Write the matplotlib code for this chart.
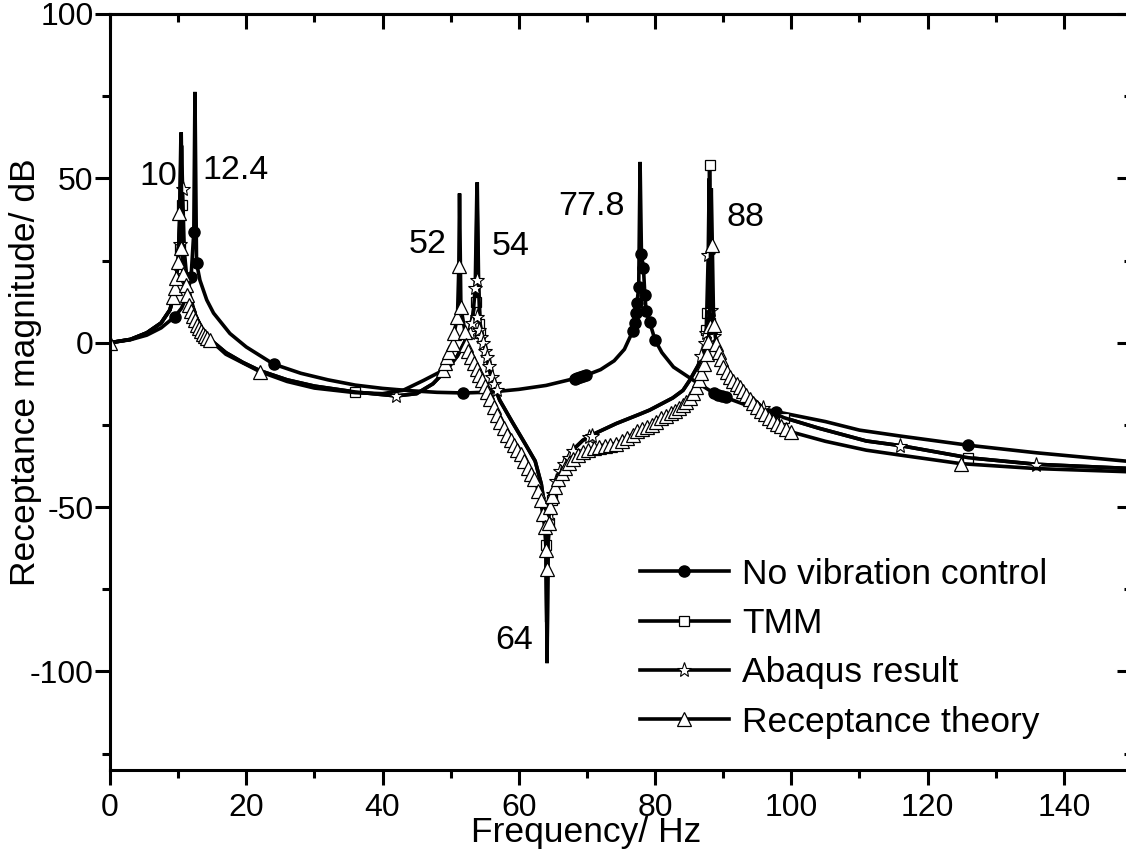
import matplotlib
matplotlib.use("Agg")
import matplotlib.pyplot as plt
from matplotlib.lines import Line2D
from matplotlib.ticker import MultipleLocator

plt.rcParams['font.family'] = ['Liberation Sans', 'DejaVu Sans']
plt.rcParams['axes.unicode_minus'] = False

# ---- No vibration control (filled circles) ----
nvc_f = [0, 3, 5.4, 7.5, 9.5, 10.5, 11.3, 11.9, 12.3, 12.47, 12.7, 13.2, 14.2, 15.2, 17.6, 20,
         24, 28, 32, 36, 40, 44, 48, 52, 56, 60, 64, 68, 70, 72, 74, 75.5, 76.5, 77.2, 77.6,
         77.8, 78.0, 78.3, 78.5, 78.7, 79.2, 80, 81, 82.7, 85.6, 88, 89.5, 93, 97.8, 105,
         110, 116, 126, 136, 150]
nvc_db = [0, 0.9, 2.3, 4.5, 7.9, 10.5, 14.5, 20, 33.7, 76.3, 24.3, 19, 13, 9, 2.8, -1.3,
          -6.5, -9.3, -11.3, -12.9, -13.9, -14.6, -15.1, -15.3, -15, -14.2, -13, -11, -9.8,
          -8.2, -5.5, -2, 2.5, 9, 17, 55, 27, 22.6, 14.5, 9.5, 6.3, 0.8, -3, -7.4, -11.4,
          -14.5, -16, -18.7, -21, -24, -26.6, -28.4, -31.2, -33.5, -36.2]
nvc_mf = [9.5, 11.9, 12.3, 12.7, 24, 51.8, 68.2, 68.6, 69.0, 69.4, 69.8, 76.7, 77.0, 77.2,
          77.4, 77.6, 78.0, 78.3, 78.5, 78.7, 79.2, 80.0, 88.6, 89.2, 89.8, 90.4, 97.8, 125.9]
nvc_mdb = [7.9, 20, 33.7, 24.3, -6.5, -15.3, -10.9, -10.6, -10.4, -10.2, -9.9, 3.5, 6, 9,
           12, 17, 27, 22.6, 14.5, 9.5, 6.3, 0.8, -15.2, -15.8, -16.2, -16.6, -21, -31.2]

# ---- TMM (open squares) ----
tmm_f = [0, 3, 5.4, 7.5, 8.8, 9.5, 10.0, 10.3, 10.45, 10.6, 10.8, 11.2, 11.8, 12.6, 13.6,
         14.7, 17, 19.5, 22, 26, 30, 36, 42, 45, 47.4, 49.5, 51, 52, 52.8, 53.3, 53.7, 53.9,
         54.1, 54.3, 54.8, 55.3, 56, 57.2, 59, 61, 62.4, 63.3, 63.8, 64.0, 64.15, 64.3, 64.6,
         65.3, 66.5, 68, 69.4, 71, 74.3, 77.8, 79.2, 82.6, 84.1, 85.1, 86.3, 87.1, 87.6, 87.9,
         88.0, 88.15, 88.4, 89, 90, 91.5, 93, 95.8, 98.9, 104, 111, 116, 126, 136, 150]
tmm_db = [0, 1, 3, 6, 10, 15.5, 24, 40, 64, 42, 28, 19, 13, 8, 4, 1, -3, -6, -8.5, -11.3,
          -13.2, -15, -16.2, -15.5, -12.5, -8, -4, 0, 4, 9, 14, 48.8, 18, 6, 1, -4.3, -11,
          -17.5, -24, -31, -36, -43, -50, -62, -97.5, -62, -50, -43, -37, -32.5, -29.7, -27.8,
          -24.6, -21.7, -20.5, -16.8, -14.5, -11.4, -7, -3, 2, 12, 54, 12, 4, -2, -6.5, -11,
          -14.5, -19.8, -22.8, -26, -29.9, -31.3, -35, -37, -38.3]
tmm_mf = [10.5, 10.3, 36, 53.7, 54.1, 54.3, 64.0, 64.4, 64.8, 87.5, 87.6, 88.0, 88.1,
          98.9, 126]
tmm_mdb = [42, 28.8, -15, 12.4, 5.8, 3, -61.6, -55, -48, 4, 9, 54, 6, -22.8, -35]

# ---- Abaqus result (open stars) ----
abq_f = [0, 3, 5.4, 7.5, 8.8, 9.5, 10.0, 10.3, 10.5, 10.65, 10.9, 11.3, 11.9, 12.6, 13.6,
         14.7, 17, 19.5, 22, 26, 30, 36, 42, 45, 47.4, 49.5, 51, 52, 52.8, 53.3, 53.6, 53.85,
         54.05, 54.3, 54.8, 55.3, 56, 57.2, 59, 61, 62.4, 63.3, 63.8, 64.0, 64.15, 64.3, 64.6,
         65.3, 66.5, 68, 69.4, 71, 74.3, 77.8, 79.2, 82.6, 84.1, 85.1, 86.3, 87.1, 87.5, 87.8,
         87.95, 88.1, 88.4, 89, 90, 91.5, 93, 95.8, 98.9, 104, 111, 116, 126, 136, 150]
abq_db = [0, 1, 3, 6, 10, 15.5, 24, 38, 60, 46.7, 28, 19, 13, 8, 4, 1, -3, -6, -8.5, -11.3,
          -13.2, -15, -16.2, -15.5, -12.5, -8, -4, 0, 4, 9, 16.5, 47, 19.2, 6, 1, -4.3, -11,
          -17.5, -24, -31, -36, -43, -50, -60, -94, -60, -50, -43, -37, -32.5, -29.7, -27.8,
          -24.6, -21.7, -20.5, -16.8, -14.5, -11.4, -7, -3, 2, 26.6, 50, 12, 4, -2, -6.5, -11,
          -14.5, -19.8, -22.8, -26, -29.9, -31.3, -35, -37, -38.3]
abq_mf = [10.7, 10.3, 10.1, 42, 52.9, 53.2, 53.6, 53.8, 53.9, 54.2, 54.5, 54.8, 55.0, 55.3,
          55.6, 56.0, 56.3, 56.8, 64.5, 65.0, 65.5, 66.0, 66.6, 67.3, 68.0, 70.3, 70.7, 86.8,
          87.3, 87.5, 87.7, 88.2, 88.6, 95.8, 115.9, 135.9]
abq_mdb = [46.7, 30, 22, -16.2, 3, 6, 16.5, 19.2, 7.9, 4, 1.8, 0, -2.5, -4.3, -7, -10.5,
           -12.5, -14.5, -52, -46, -42, -39, -37, -35, -32.8, -28.8, -28.4, -4, 0, 3, 26.6,
           10, 2, -19.8, -31.5, -37.1]

# ---- Receptance theory (open triangles) ----
rec_f = [0, 3, 5.4, 7.5, 8.8, 9.5, 10.0, 10.2, 10.4, 10.55, 10.7, 11.0, 11.3, 11.6, 12.3,
         13.3, 14.7, 17, 22, 26, 30, 36, 40, 43, 46, 48.9, 49.7, 50.3, 50.5, 51.0, 51.2, 51.3,
         51.5, 52.1, 52.2, 53, 54, 55.8, 58, 60, 62.4, 63.2, 63.5, 63.8, 64.0, 64.1, 64.3,
         64.6, 65.3, 66.3, 68, 69.4, 72, 74.3, 77.8, 79.2, 82.6, 84.1, 85.3, 86.2, 87, 87.6,
         87.8, 88.0, 88.25, 88.4, 88.6, 89, 90, 92.4, 94.9, 97.3, 99.9, 105, 111, 116, 124.9,
         136, 150]
rec_db = [0, 1, 3, 6, 10, 15.5, 24, 38, 62, 35, 21, 17, 14.5, 11.5, 8, 4, 0.8, -3.5, -8.8,
          -11.8, -13.8, -15.2, -15.5, -14.5, -11.5, -8.4, -2.8, -0.3, 3, 7.7, 23.3, 45.4, 10.8,
          3.3, -0.8, -4.5, -8.8, -17, -26, -32, -41.5, -48, -52, -56, -63, -85, -55, -50, -44,
          -39.5, -35.5, -33.2, -31.3, -30.7, -26.6, -25.6, -21, -19, -16, -12.5, -8, -3.3,
          0.3, 5, 47, 29.7, 5.3, -0.3, -7.4, -13.4, -19.5, -23.8, -27.1, -30, -32.7, -34.2,
          -36.8, -38.3, -39.3]
rec_mf = [0, 9.2, 9.5, 9.7, 10.0, 10.1, 10.4, 10.7, 11.2, 11.3, 11.6, 11.9, 12.2, 12.5, 12.8,
          13.1, 13.4, 13.7, 14.0, 14.3, 14.7, 22,
          48.9, 49.1, 49.4, 49.7, 50.3, 50.5, 51.0, 51.2, 51.5, 52.1, 52.2, 52.6, 53.0, 53.4,
          53.8, 54.2, 54.6, 55.0, 55.4, 55.8, 56.3, 56.8, 57.3, 57.8, 58.3, 58.8, 59.3, 59.8,
          60.3, 60.8, 61.3, 61.8, 62.3, 62.8, 63.2, 63.5, 63.8, 64.0, 64.1,
          64.4, 64.6, 64.9, 65.3, 65.8, 66.3, 66.8, 67.4, 68.0, 68.7,
          69.4, 70.2, 71.0, 71.8, 72.6, 73.4, 74.3, 75.1, 75.9, 76.7,
          77.4, 78.1, 78.8, 79.5, 80.2, 80.9, 81.6, 82.3, 82.9, 83.5,
          84.1, 84.6, 85.1, 85.6, 86.0, 86.4, 86.8, 87.2, 87.6, 87.8,
          88.0, 88.4, 88.6, 89.0, 89.4, 89.7, 90.0, 90.5, 91.0, 91.5,
          92.0, 92.4, 92.9, 93.4, 93.9, 94.4, 94.9, 95.5, 96.1, 96.7,
          97.3, 97.9, 98.5, 99.2, 99.9, 124.9]
rec_mdb = [0, 14, 16.6, 19.6, 24.6, 39.4, 28.8, 21, 17.5, 14.5, 11.5, 9.5, 8, 6.8, 5.5,
           4.5, 3.5, 2.7, 2, 1.4, 0.8, -8.8,
           -8.4, -6.3, -4.5, -2.8, -0.3, 3, 7.7, 23.3, 10.8, 3.3, -0.8, -2.5, -4.5, -6.3,
           -8, -9.7, -11.5, -13.3, -15, -17, -19.5, -22, -24, -26, -28, -29.5, -31, -32.5,
           -34, -36, -38, -40, -41.5, -45, -48, -52, -56, -63, -69,
           -55, -50, -46.5, -44, -41.5, -39.5, -38, -36.7, -35.5, -34.3,
           -33.2, -32.5, -32, -31.6, -31.3, -31, -30.7, -30, -29, -28,
           -27, -26.3, -25.8, -25, -24, -23, -22.2, -21.5, -20.8, -20,
           -19, -18, -16.8, -15.2, -13.5, -11.5, -9.3, -6.5, -3.3, 0.3,
           5, 29.7, 5.3, -0.3, -2.8, -5, -7.4, -9, -10.5, -11.8,
           -12.7, -13.4, -14.8, -16, -17.2, -18.3, -19.5, -20.7, -21.8, -22.8,
           -23.8, -24.6, -25.4, -26.3, -27.1, -36.8]

# peak labels
peak_txt = ['10', '12.4', '52', '54', '77.8', '88', '64']
peak_x = [9.8, 13.5, 49.4, 56.0, 75.6, 90.5, 62.1]
peak_y = [50.5, 52.5, 29.8, 29.2, 41.5, 38.0, -90.6]
peak_ha = ['right', 'left', 'right', 'left', 'right', 'left', 'right']

labels = ['No vibration control', 'TMM', 'Abaqus result', 'Receptance theory']

fig = plt.figure(figsize=(11.26, 8.52), dpi=100)
ax = fig.add_axes([110 / 1126, 82 / 852, 1022 / 1126, 756 / 852])

lw = 2.6
styles = [dict(marker='o', markersize=8, markerfacecolor='k', markeredgecolor='k'),
          dict(marker='s', markersize=7.5, markerfacecolor='white', markeredgecolor='k', markeredgewidth=0.9),
          dict(marker='*', markersize=11, markerfacecolor='white', markeredgecolor='k', markeredgewidth=0.8),
          dict(marker='^', markersize=10, markerfacecolor='white', markeredgecolor='k', markeredgewidth=0.9)]

series = [(nvc_f, nvc_db, nvc_mf, nvc_mdb),
          (tmm_f, tmm_db, tmm_mf, tmm_mdb),
          (abq_f, abq_db, abq_mf, abq_mdb),
          (rec_f, rec_db, rec_mf, rec_mdb)]

handles = []
for (f, db, mf, mdb), st, lab in zip(series, styles, labels):
    ax.plot(f, db, color='k', lw=lw, solid_joinstyle='miter')
    ax.plot(mf, mdb, linestyle='none', **st)
    handles.append(Line2D([], [], color='k', lw=lw, label=lab, **st))

for t, x, y, ha in zip(peak_txt, peak_x, peak_y, peak_ha):
    ax.text(x, y, t, fontsize=24.5, ha=ha, va='center')

ax.set_xlim(0, 150)
ax.set_ylim(-130, 100)
ax.xaxis.set_major_locator(MultipleLocator(20))
ax.xaxis.set_minor_locator(MultipleLocator(10))
ax.yaxis.set_major_locator(MultipleLocator(50))
ax.yaxis.set_minor_locator(MultipleLocator(25))
ax.tick_params(which='both', direction='out', width=2.2, labelsize=23, top=False, right=False)
ax.tick_params(which='major', length=10.8)
ax.tick_params(which='minor', length=5.8)
ax.tick_params(axis='x', pad=6)
ax.tick_params(axis='y', pad=1)
for s in ax.spines.values():
    s.set_linewidth(2.2)

# inward ticks on top and right
sx = ax.secondary_xaxis('top')
sx.xaxis.set_major_locator(MultipleLocator(20))
sx.xaxis.set_minor_locator(MultipleLocator(10))
sx.tick_params(which='both', direction='in', width=2.2, labeltop=False)
sx.tick_params(which='major', length=10.8)
sx.tick_params(which='minor', length=5.8)
sx.spines['top'].set_linewidth(2.2)
sy = ax.secondary_yaxis('right')
sy.yaxis.set_major_locator(MultipleLocator(50))
sy.yaxis.set_minor_locator(MultipleLocator(25))
sy.tick_params(which='both', direction='in', width=2.2, labelright=False)
sy.tick_params(which='major', length=10.8)
sy.tick_params(which='minor', length=5.8)
sy.spines['right'].set_linewidth(2.2)

fig.text(586 / 1126, 1 - 842 / 852, 'Frequency/ Hz', fontsize=25.5, ha='center', va='baseline')
fig.text(26 / 1126, 1 - 372 / 852, 'Receptance magnitude/ dB', fontsize=25.5, ha='center',
         va='center', rotation=90)

ax.legend(handles=handles, loc='center left', bbox_to_anchor=(0.5186, 0.161), frameon=False,
          fontsize=25.5, handlelength=2.5, handletextpad=0.38, labelspacing=0.46, borderpad=0,
          borderaxespad=0, numpoints=1)

fig.savefig('out.png', dpi=100)
